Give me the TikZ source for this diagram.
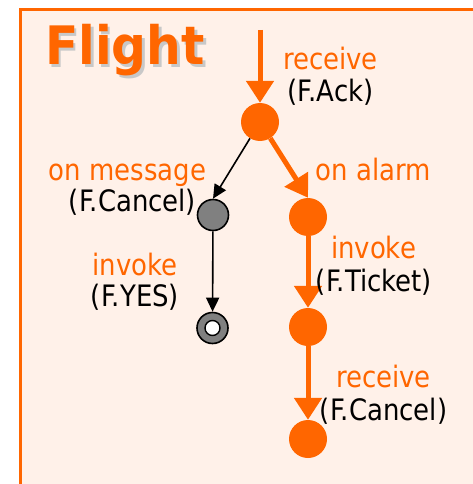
\documentclass[tikz,border=0pt]{standalone}
\usepackage{fontspec}
\usetikzlibrary{arrows.meta}
\newfontfamily\lblfont[FakeStretch=0.88]{DejaVu Sans}
\newfontfamily\titlefont[FakeStretch=0.92]{DejaVu Sans Bold}
\definecolor{flOrange}{HTML}{FF6600}
\definecolor{flBack}{HTML}{FFF1E9}
\definecolor{flGray}{HTML}{808080}
\definecolor{flShadow}{HTML}{C8C8C8}
\begin{document}
\begin{tikzpicture}[x=1pt,y=-1pt,
  lbl/.style={anchor=base,inner sep=0pt,font=\lblfont\fontsize{29.5}{32}\selectfont},
  olbl/.style={lbl,text=flOrange},
  blbl/.style={lbl,text=black},
  ttl/.style={anchor=base west,inner sep=0pt,font=\titlefont\fontsize{53}{60}\selectfont},
  onode/.style={circle,fill=flOrange,inner sep=0pt,minimum size=38pt},
  gnode/.style={circle,fill=flGray,draw=black,line width=1.6pt,inner sep=0pt,minimum size=31pt},
  hole/.style={circle,fill=white,draw=black,line width=1.4pt,inner sep=0pt,minimum size=15pt},
  oarrow/.style={draw=flOrange,line width=5pt,-{Triangle[length=22pt,width=27pt]}},
  barrow/.style={draw=black,line width=1.6pt,-{Triangle[length=14pt,width=13pt]}}]
\useasboundingbox (0,0) rectangle (472,484);
% panel
\draw[fill=flBack,draw=flOrange,line width=2.2pt] (20.5,9.5) rectangle (490,500);
% title with its drop shadow
\node[ttl,text=flShadow] (titleshadow) at (47.5,67.5) {Flight};
\node[ttl,text=flOrange] (title) at (45,65) {Flight};
% states
\coordinate (start) at (260,30);
\node[onode] (a) at (260,122) {};
\node[gnode] (g1) at (213,215) {};
\node[gnode] (g2) at (212.5,328) {};
\node[hole] (g2in) at (212.5,328) {};
\node[onode] (b1) at (308,217) {};
\node[onode] (b2) at (308,327) {};
\node[onode] (b3) at (308,439) {};
% transitions
\draw[oarrow] (start) -- (a);
\draw[barrow] (a) -- (g1.north);
\draw[barrow] (g1) -- (g2);
\draw[oarrow] (a) -- (b1.north);
\draw[oarrow] (b1) -- (b2);
\draw[oarrow] (b2) -- (b3);
% labels
\node[olbl] (rcv1) at (330.5,70) {receive};
\node[blbl] (ack) at (330.5,101.5) {(F.Ack)};
\node[olbl] (msg) at (127.5,180) {on message};
\node[blbl] (cancel1) at (132.5,211.5) {(F.Cancel)};
\node[olbl] (inv1) at (135,275) {invoke};
\node[blbl] (yes) at (135,306.5) {(F.YES)};
\node[olbl] (alarm) at (373.5,180) {on alarm};
\node[olbl] (inv2) at (373.5,258) {invoke};
\node[blbl] (ticket) at (374,291.5) {(F.Ticket)};
\node[olbl] (rcv2) at (383.5,387.5) {receive};
\node[blbl] (cancel2) at (383.5,420) {(F.Cancel)};
\end{tikzpicture}
\end{document}
